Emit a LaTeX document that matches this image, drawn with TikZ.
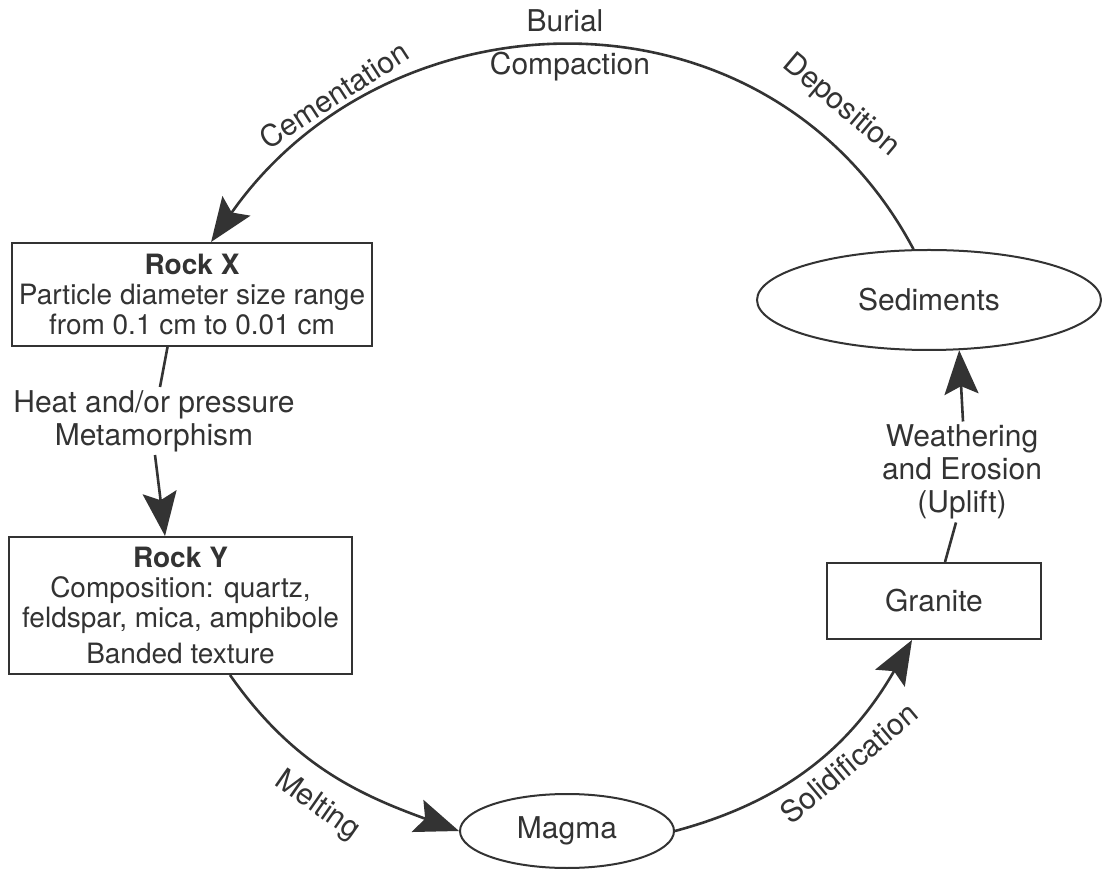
\documentclass[tikz,border=0pt]{standalone}
\usepackage{fontspec}
\setmainfont{TeX Gyre Heros}
\usetikzlibrary{arrows.meta, shapes.geometric}
\definecolor{ink}{gray}{0.2}

\begin{document}
\begin{tikzpicture}[x = 0.5pt, y = 0.5pt, line width = 1.3pt, color = ink,
                        box/.style = {draw, line width = 1pt, align = center, inner sep = 2pt, font = \fontsize{14}{15}\selectfont},
                        blob/.style = {ellipse, draw, line width = 1pt, inner sep = 1pt, font = \fontsize{15}{18}\selectfont},
                        lbl/.style = {align = center, inner sep = 1pt, font = \fontsize{15}{16.5}\selectfont},
                        flow/.style = {-{Stealth[length = 22pt, width = 17pt, inset = 4pt]}}]
      \useasboundingbox (0, 0) rectangle (1102, -870);
      \node [box, minimum width = 180pt, minimum height = 51.5pt] (rockx) at (192, -294.5){\textbf{Rock X}\\Particle diameter size range\\from 0.1 cm to 0.01 cm};
      \node [box, minimum width = 171.5pt, minimum height = 68.5pt] (rocky) at (180.5, -605.5){\textbf{Rock Y}\\Composition: quartz,\\feldspar, mica, amphibole\\[3pt]Banded texture};
      \node [box, minimum width = 107pt, minimum height = 38pt, font = \fontsize{15}{18}\selectfont] (granite) at (934, -601){Granite};
      \node [blob, minimum width = 172pt, minimum height = 50pt] (sediments) at (929, -300){Sediments};
      \node [blob, minimum width = 107pt, minimum height = 37pt] (magma) at (567, -831){Magma};
      \node [lbl] (heat) at (154, -421){Heat and/or pressure\\Metamorphism};
      \node [lbl] (weather) at (962, -472){Weathering\\and Erosion\\(Uplift)};
      \node [lbl] (burial) at (565, -21){Burial};
      \node [lbl] (compaction) at (570, -67){Compaction};
      \node [lbl, rotate = 33] (cementation) at (334, -95){Cementation};
      \node [lbl, rotate = -40] (deposition) at (841, -106){Deposition};
      \node [lbl, rotate = -35] (melting) at (317, -806){Melting};
      \node [lbl, rotate = 40] (solidification) at (849, -763){Solidification};
      \draw [flow] (sediments.107) to [out = 118, in = 55, looseness = 1.13] (rockx.70);
      \draw (rockx.245) -- ([xshift = 3pt]heat.north);
      \draw [flow] ([xshift = 0.5pt]heat.south) -- ([xshift = -7.75pt]rocky.north);
      \draw [flow] ([xshift = 24.75pt]rocky.south) to [out = -55, in = 160] (magma.west);
      \draw [flow] (magma.east) to [out = 15, in = 240] ([xshift = -11pt]granite.south);
      \draw ([xshift = 5.5pt]granite.north) -- ([xshift = -3pt]weather.south);
      \draw [flow] ([xshift = 0.5pt]weather.north) -- (sediments.-59);
    \end{tikzpicture}
\end{document}
